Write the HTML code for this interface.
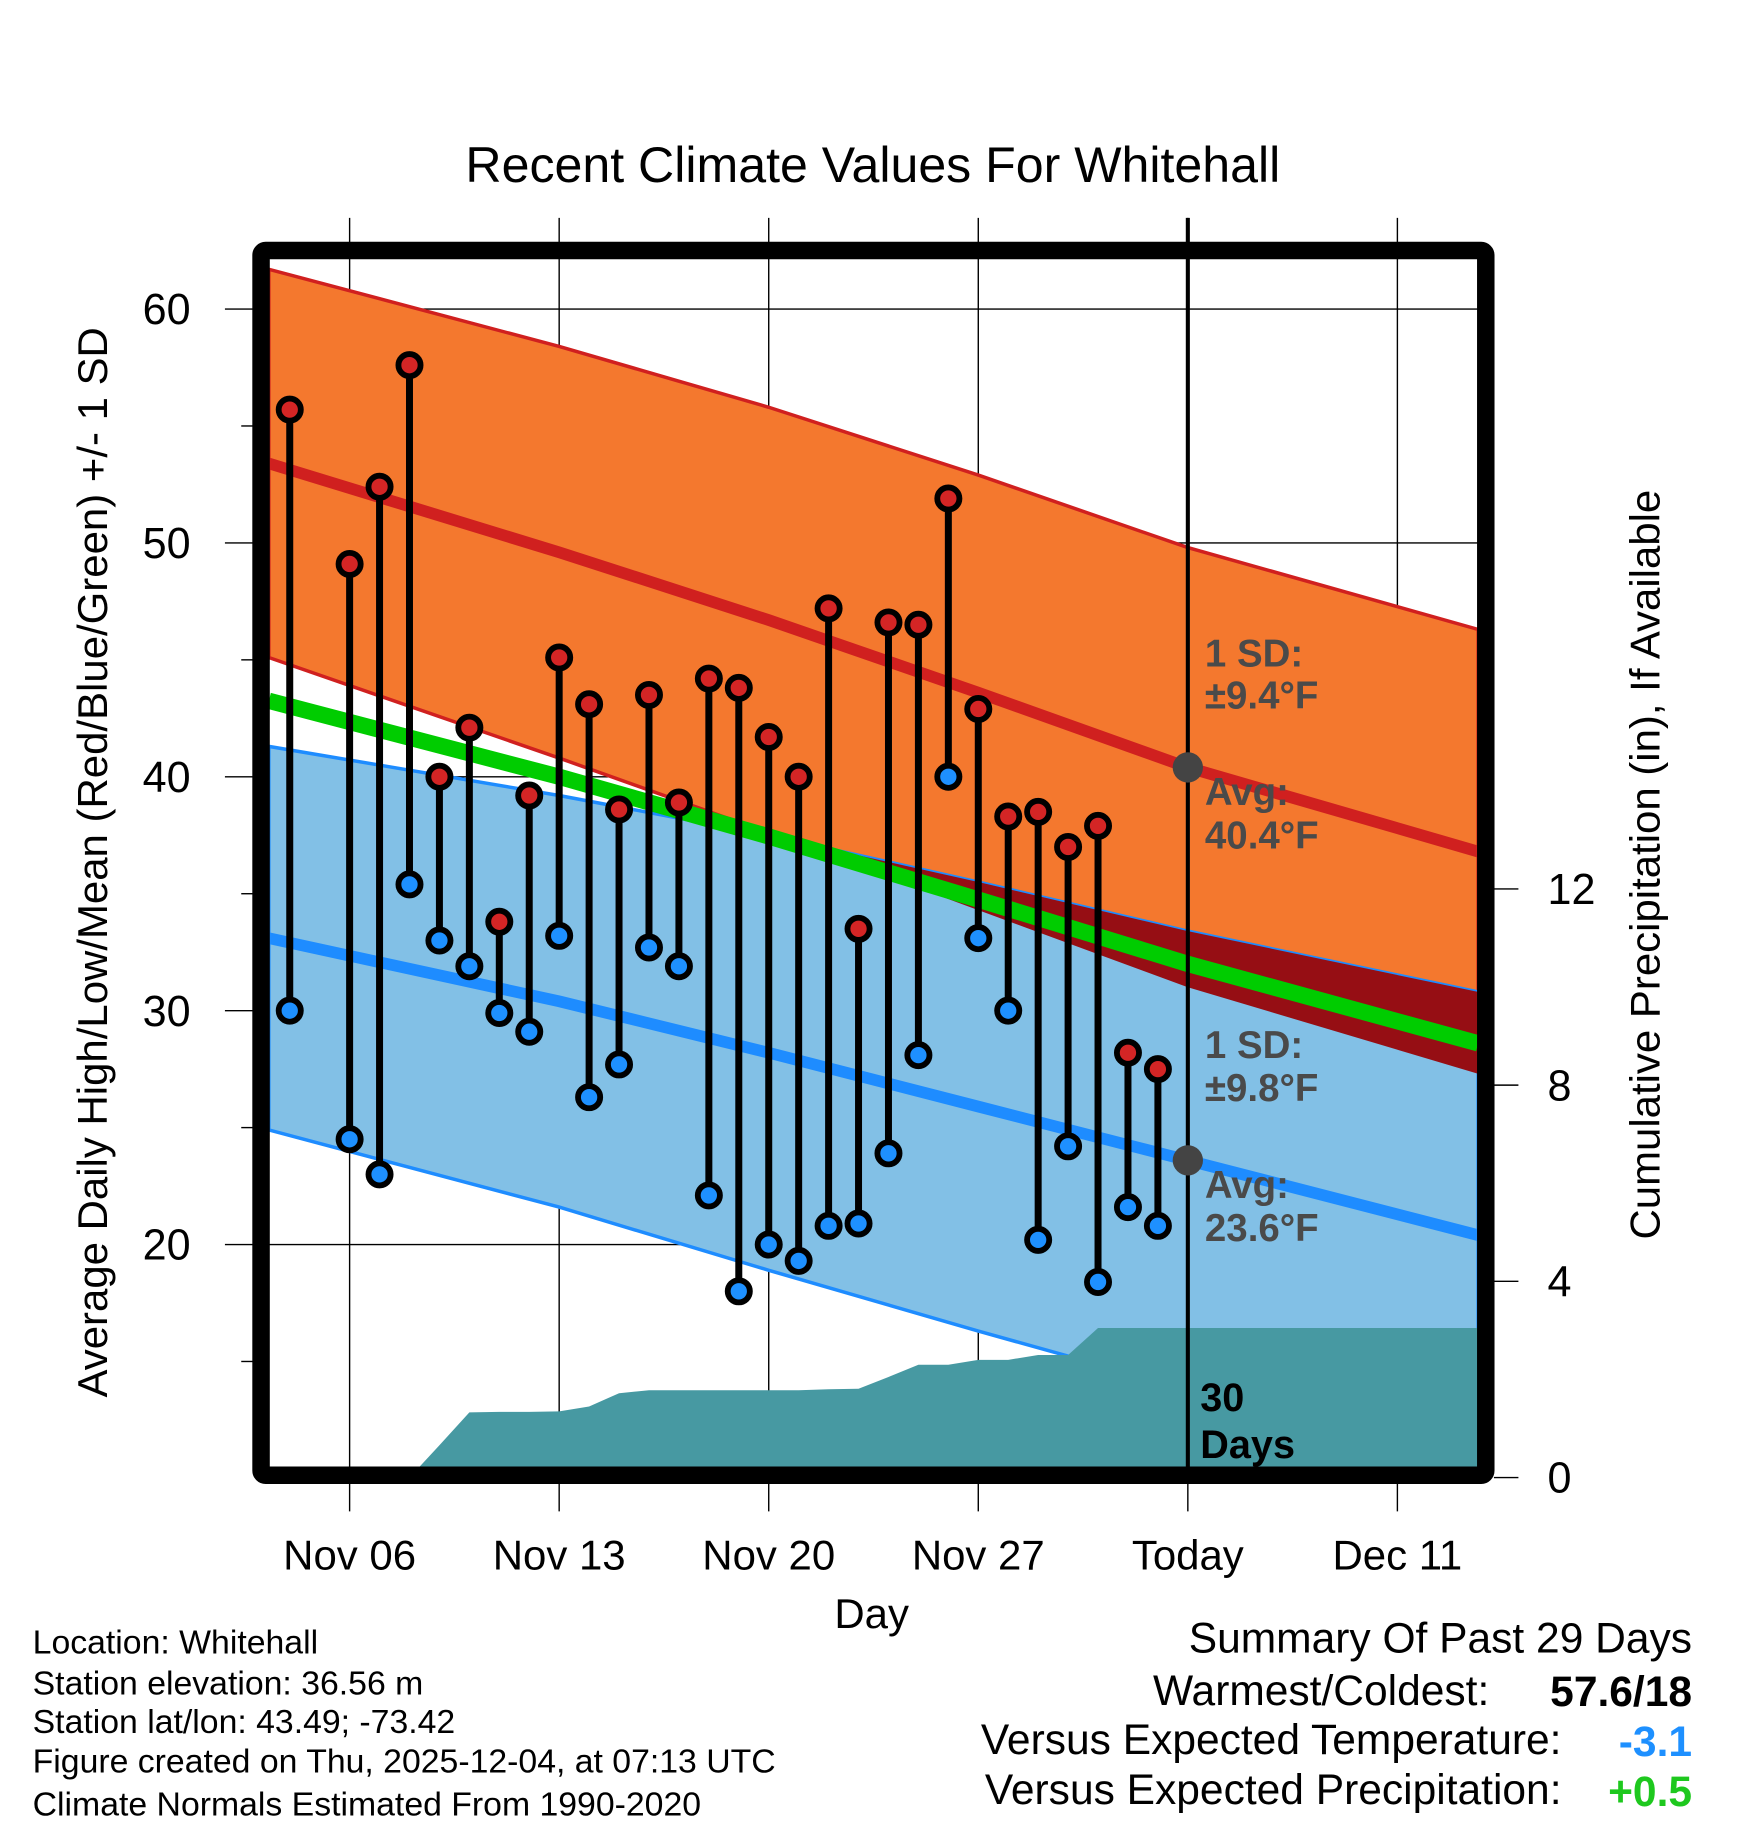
<!DOCTYPE html>
<html><head><meta charset="utf-8"><style>
html,body{margin:0;padding:0;background:#fff}
svg{display:block}
text{font-family:"Liberation Sans",sans-serif}
</style></head><body>
<svg id="chart" xmlns="http://www.w3.org/2000/svg" width="1748" height="1828" viewBox="0 0 1500 1568.7">
<defs><clipPath id="plotclip"><rect x="231" y="222" width="1037" height="1037"/></clipPath>
<clipPath id="orangeclip"><path id="oc" d=""/></clipPath></defs>
<text x="749" y="156" font-size="43" text-anchor="middle">Recent Climate Values For Whitehall</text>
<g id="grid"></g>
<g id="bands" clip-path="url(#plotclip)"></g>
<g id="marks"></g>
<rect x="224" y="215" width="1051" height="1051" rx="4" fill="none" stroke="#000" stroke-width="15"/>
<g id="annot" font-weight="bold" font-size="33" fill="#4a4a4a">
<text x="1034" y="572">1 SD:</text>
<text x="1034" y="608">±9.4°F</text>
<text x="1034" y="691">Avg:</text>
<text x="1034" y="728">40.4°F</text>
<text x="1034" y="908">1 SD:</text>
<text x="1034" y="945">±9.8°F</text>
<text x="1034" y="1028">Avg:</text>
<text x="1034" y="1065">23.6°F</text>
<text x="1030" y="1211" fill="#000" font-size="34">30</text>
<text x="1030" y="1251" fill="#000" font-size="34">Days</text>
</g>
<text transform="translate(92,740) rotate(-90)" font-size="36" text-anchor="middle">Average Daily High/Low/Mean (Red/Blue/Green) +/- 1 SD</text>
<text transform="translate(1424,742) rotate(-90)" font-size="36" text-anchor="middle">Cumulative Precipitation (in), If Available</text>
<text x="748" y="1397" font-size="36" text-anchor="middle">Day</text>
<g font-size="29">
<text x="28" y="1419">Location: Whitehall</text>
<text x="28" y="1454">Station elevation: 36.56 m</text>
<text x="28" y="1487">Station lat/lon: 43.49; -73.42</text>
<text x="28" y="1521">Figure created on Thu, 2025-12-04, at 07:13 UTC</text>
<text x="28" y="1558">Climate Normals Estimated From 1990-2020</text>
</g>
<g font-size="36.5" text-anchor="end">
<text x="1452" y="1418">Summary Of Past 29 Days</text>
<text x="1278" y="1463">Warmest/Coldest:</text>
<text x="1452" y="1464" font-weight="bold">57.6/18</text>
<text x="1340" y="1505">Versus Expected Temperature:</text>
<text x="1452" y="1507" font-weight="bold" fill="#1e90ff">-3.1</text>
<text x="1340" y="1548">Versus Expected Precipitation:</text>
<text x="1452" y="1550" font-weight="bold" fill="#1ec81e">+0.5</text>
</g>
</svg>
<script>
// ---- data ----
const days = [-2,0,1,2,3,4,5,6,7,8,9,10,11,12,13,14,15,16,17,18,19,20,21,22,23,24,25,26,27]; // days from Nov 06
const highs = [55.7,49.1,52.4,57.6,40.0,42.1,33.8,39.2,45.1,43.1,38.6,43.5,38.9,44.2,43.8,41.7,40.0,47.2,33.5,46.6,46.5,51.9,42.9,38.3,38.5,37.0,37.9,28.2,27.5];
const lows = [30.0,24.5,23.0,35.4,33.0,31.9,29.9,29.1,33.2,26.3,27.7,32.7,31.9,22.1,18.0,20.0,19.3,20.8,20.9,23.9,28.1,40.0,33.1,30.0,20.2,24.2,18.4,21.6,20.8];
const normDays = [-2.7,7,14,21,28,37.7];
const normHigh = [53.4,49.6,46.7,43.6,40.4,36.8];
const normHighSD = [8.3,8.8,9.1,9.3,9.4,9.5];
const normLow = [33.1,30.4,28.2,25.9,23.6,20.4];
const normLowSD = [8.2,8.8,9.3,9.6,9.8,10.4];
const precipDays = [-2,-1,0,1,2,3,4,5,6,7,8,9,10,11,12,13,14,15,16,17,18,19,20,21,22,23,24,25,26,27,28];
const precipCum = [0,0,0,0,0,0.66,1.33,1.34,1.34,1.35,1.45,1.72,1.78,1.78,1.78,1.78,1.78,1.78,1.8,1.81,2.05,2.3,2.3,2.4,2.4,2.5,2.5,3.05,3.05,3.05,3.05];
const xTickDays = [0,7,14,21,28,35];
const xTickLabels = ["Nov 06","Nov 13","Nov 20","Nov 27","Today","Dec 11"];
const yTicks = [20,30,40,50,60];
const yMinor = [15,25,35,45,55];
const y2Ticks = [0,4,8,12];
const todayDay = 28, todayHigh = 40.4, todayLow = 23.6;
// ---- scales ----
const NS="http://www.w3.org/2000/svg";
const X = d => 300 + 25.69*d;
const Y = v => 1068 - (v-20)*20.07;
const Y2 = p => 1268 - p*42.1;
const L=231,R=1268,T=222,B=1259;
function mk(tag, attrs, parent){const e=document.createElementNS(NS,tag);for(const k in attrs)e.setAttribute(k,attrs[k]);parent.appendChild(e);return e;}
const grid=document.getElementById('grid'), bands=document.getElementById('bands'), marks=document.getElementById('marks');
const svg=document.getElementById('chart');
xTickDays.forEach((d,i)=>{
  const l=mk('line',{x1:X(d),x2:X(d),y1:187,y2:1297,stroke:'#000','stroke-width':1.2},grid);
  
  
  const t=mk('text',{x:X(d),y:1347,'font-size':36,'text-anchor':'middle'},svg);
  t.textContent=xTickLabels[i];
  
  
});
yTicks.forEach(v=>{
  const l=mk('line',{x1:193,x2:R,y1:Y(v),y2:Y(v),stroke:'#000','stroke-width':1.2},grid);
  
  
  const t=mk('text',{x:143,y:Y(v)+13,'font-size':37,'text-anchor':'middle'},svg);
  t.textContent=v;
  
  
});
yMinor.forEach(v=>{
  const l=mk('line',{x1:207,x2:218,y1:Y(v),y2:Y(v),stroke:'#000','stroke-width':1.2},grid);
  
  
});
y2Ticks.forEach(p=>{
  const l=mk('line',{x1:1282,x2:1303,y1:Y2(p),y2:Y2(p),stroke:'#000','stroke-width':1.2},grid);
  
  
  const t=mk('text',{x:1328,y:Y2(p)+13,'font-size':37},svg);
  t.textContent=p;
  
  
});
const pts=(arr)=>normDays.map((d,i)=>X(d)+','+Y(arr[i]));
const hiUp=normHigh.map((v,i)=>v+normHighSD[i]), hiDn=normHigh.map((v,i)=>v-normHighSD[i]);
const loUp=normLow.map((v,i)=>v+normLowSD[i]), loDn=normLow.map((v,i)=>v-normLowSD[i]);
const mean=normHigh.map((v,i)=>(v+normLow[i])/2);
const orangeD='M'+pts(hiUp).join(' L')+' L'+pts(hiDn).reverse().join(' L')+'Z';
const blueD='M'+pts(loUp).join(' L')+' L'+pts(loDn).reverse().join(' L')+'Z';
document.getElementById('oc').setAttribute('d',orangeD);
let e;
e=mk('path',{d:orangeD,fill:'#f4782e',stroke:'#d0201f','stroke-width':3},bands);


e=mk('path',{d:blueD,fill:'#82c0e6',stroke:'#1e8cff','stroke-width':3},bands);


e=mk('path',{d:blueD,fill:'#960e14','clip-path':'url(#orangeclip)'},bands);


e=mk('polyline',{points:pts(mean).join(' '),fill:'none',stroke:'#00cc00','stroke-width':14},bands);


e=mk('polyline',{points:pts(normHigh).join(' '),fill:'none',stroke:'#d0201f','stroke-width':10},bands);


e=mk('polyline',{points:pts(normLow).join(' '),fill:'none',stroke:'#1e8cff','stroke-width':10},bands);


let pd='M'+X(precipDays[0])+','+B;
precipDays.forEach((d,i)=>{pd+=' L'+X(d)+','+Y2(precipCum[i]);});
pd+=' L'+(R+5)+','+Y2(precipCum[precipCum.length-1])+' L'+(R+5)+','+B+'Z';
e=mk('path',{d:pd,fill:'#4799a2'},bands);


e=mk('line',{x1:X(todayDay),x2:X(todayDay),y1:187,y2:B,stroke:'#000','stroke-width':3.5},marks);


days.forEach((d,i)=>{
  const s=mk('line',{x1:X(d),x2:X(d),y1:Y(highs[i]),y2:Y(lows[i]),stroke:'#000','stroke-width':6},marks);
  
  
});
days.forEach((d,i)=>{
  const h=mk('circle',{cx:X(d),cy:Y(highs[i]),r:9.5,fill:'#d42525',stroke:'#000','stroke-width':5},marks);
  
  
  const l=mk('circle',{cx:X(d),cy:Y(lows[i]),r:9.5,fill:'#1e90ff',stroke:'#000','stroke-width':5},marks);
  
  
});
e=mk('circle',{cx:X(todayDay),cy:Y(todayHigh),r:13,fill:'#444'},marks);


e=mk('circle',{cx:X(todayDay),cy:Y(todayLow),r:13,fill:'#444'},marks);


</script>
</body></html>
